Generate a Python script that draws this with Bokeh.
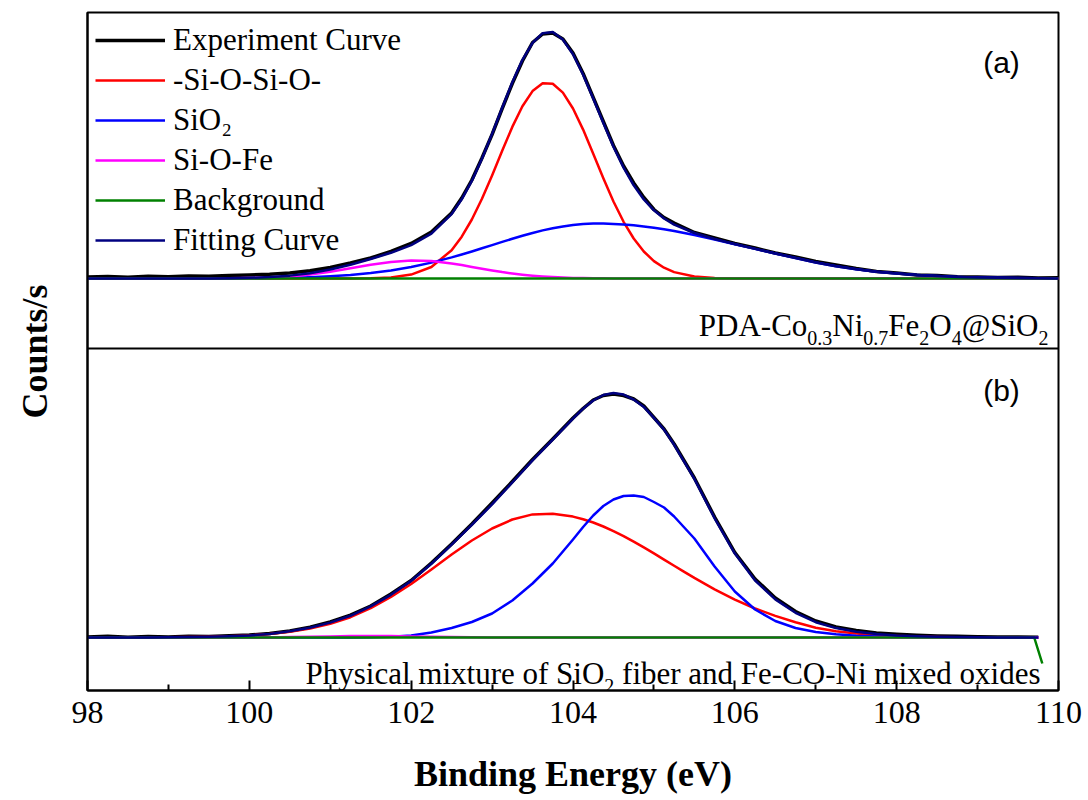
from bokeh.plotting import figure
from bokeh.models import Range1d, Span, Legend, LegendItem, FixedTicker
from bokeh.core.properties import value
from bokeh.embed import file_html
from bokeh.resources import INLINE

# ---------------- data ----------------
energy_a = [98.0, 98.25, 98.5, 98.75, 99.0, 99.25, 99.5, 99.75, 100.0, 100.25, 100.5, 100.75,
            101.0, 101.25, 101.5, 101.75, 102.0, 102.25, 102.5,
            102.625, 102.75, 102.875, 103.0, 103.125, 103.25, 103.375, 103.5, 103.625, 103.75, 103.875,
            104.0, 104.125, 104.25, 104.375, 104.5, 104.625, 104.75, 104.875, 105.0, 105.125, 105.25,
            105.5, 105.75, 106.0, 106.25, 106.5, 106.75, 107.0, 107.25, 107.5, 107.75,
            108.0, 108.25, 108.5, 108.75, 109.0, 109.25, 109.5, 109.75, 110.0]

exp_a = [1.5, 2.0, 1.2, 2.2, 1.8, 2.5, 2.2, 3.0, 3.6, 4.2, 5.5, 7.8,
         11.0, 15.5, 20.5, 27.0, 35.0, 46.5, 65.5,
         80.5, 98.5, 120.5, 144.0, 170.0, 195.0, 217.5, 236.0, 244.5, 245.5, 239.5,
         225.5, 205.0, 181.0, 157.0, 133.0, 112.5, 95.5, 81.0, 69.0, 61.0, 55.5,
         46.0, 40.5, 35.0, 30.5, 25.5, 21.5, 17.0, 13.5, 10.0, 7.0,
         5.5, 3.5, 3.0, 1.8, 1.5, 1.0, 1.2, 0.6, 0.8]
siosio_a = [0, 0, 0, 0, 0, 0, 0, 0, 0, 0, 0, 0,
            0, 0.05, 0.27, 1.1, 3.9, 11.5, 28.3,
            41.8, 59.0, 79.7, 103.1, 127.8, 151.6, 172.2, 187.4, 195.2, 194.7, 185.9,
            170.0, 148.9, 124.8, 100.2, 77.0, 56.7, 40.0, 27.0, 17.4, 10.8, 6.4,
            2.0, 0.5, 0.1, 0, 0, 0, 0, 0, 0, 0,
            0, 0, 0, 0, 0, 0, 0, 0, 0]
sio2_a = [0, 0, 0, 0, 0.01, 0.03, 0.06, 0.12, 0.23, 0.43, 0.77, 1.3,
          2.2, 3.5, 5.4, 8.0, 11.5, 15.9, 21.1,
          24.0, 27.0, 30.2, 33.4, 36.6, 39.7, 42.7, 45.5, 48.1, 50.3, 52.1,
          53.6, 54.5, 55.0, 55.0, 54.6, 54.1, 53.2, 52.1, 50.8, 49.2, 47.5,
          43.5, 39.0, 34.3, 29.6, 25.0, 20.5, 16.0, 12.3, 9.2, 6.8,
          4.9, 3.5, 2.4, 1.6, 1.0, 0.7, 0.4, 0.2, 0.1]
siofe_a = [0, 0, 0, 0, 0, 0, 0.06, 0.16, 0.43, 1.0, 2.1, 4.0,
           6.8, 10.2, 13.8, 16.6, 18.0, 17.4, 15.0,
           13.4, 11.6, 9.8, 8.1, 6.4, 5.0, 3.8, 2.8, 2.0, 1.4, 0.9,
           0.6, 0.4, 0.2, 0.15, 0.1, 0.05, 0, 0, 0, 0, 0,
           0, 0, 0, 0, 0, 0, 0, 0, 0, 0,
           0, 0, 0, 0, 0, 0, 0, 0, 0]
fit_a = [0, 0, 0, 0, 0.01, 0.03, 0.12, 0.28, 0.66, 1.43, 2.87, 5.3,
         9.0, 13.75, 19.47, 25.7, 33.4, 44.8, 64.4,
         79.2, 97.6, 119.7, 144.6, 170.8, 196.3, 218.7, 235.7, 245.3, 246.4, 238.9,
         224.2, 203.8, 180.0, 155.4, 131.7, 110.9, 93.2, 79.1, 68.2, 60.0, 53.9,
         45.5, 39.5, 34.4, 29.6, 25.0, 20.5, 16.0, 12.3, 9.2, 6.8,
         4.9, 3.5, 2.4, 1.6, 1.0, 0.7, 0.4, 0.2, 0.1]
bg_a_x = [98.0, 110.0]
bg_a_y = [0, 0]

energy_b = [98.0, 98.25, 98.5, 98.75, 99.0, 99.25, 99.5, 99.75, 100.0, 100.25, 100.5, 100.75,
            101.0, 101.25, 101.5, 101.75, 102.0, 102.25, 102.5, 102.75, 103.0, 103.25, 103.5, 103.75,
            104.0,
            104.125, 104.25, 104.375, 104.5, 104.625, 104.75, 104.875, 105.0, 105.125, 105.25, 105.375,
            105.5, 105.75, 106.0, 106.25, 106.5, 106.75, 107.0, 107.25, 107.5, 107.75,
            108.0, 108.25, 108.5, 108.75, 109.0, 109.25, 109.5, 109.75]
exp_b = [0.5, 1.2, 0.3, 1.0, 0.6, 1.3, 1.0, 1.8, 2.4, 4.0, 6.5, 10.2,
         15.5, 22.3, 31.5, 43.5, 57.0, 74.5, 93.5, 113.5, 134.5, 156.0, 178.0, 198.5,
         219.5,
         229.0, 237.5, 242.0, 243.5, 242.0, 238.5, 231.5, 220.0, 208.5, 193.5, 176.5,
         159.5, 120.5, 85.0, 58.5, 39.5, 26.0, 16.5, 10.5, 7.0, 4.5,
         3.2, 2.2, 1.5, 1.2, 0.8, 0.5, 0.6, 0.3]
siosio_b = [0, 0.02, 0.05, 0.1, 0.2, 0.4, 0.7, 1.2, 2.1, 3.6, 5.8, 9.0,
            13.8, 20.3, 29.3, 40.5, 53.5, 68.0, 83.0, 97.0, 109.0, 118.0, 123.1, 123.8,
            120.9,
            118.3, 115.0, 111.0, 106.4, 101.4, 95.9, 90.1, 84.1, 77.9, 71.7, 65.6,
            59.6, 48.2, 37.9, 29.0, 21.6, 15.2, 9.8, 6.2, 4.0, 2.5,
            1.5, 0.9, 0.5, 0.3, 0.15, 0.1, 0, 0]
sio2_b = [0, 0, 0, 0, 0, 0, 0, 0, 0, 0, 0, 0,
          0, 0, 0.3, 0.8, 2.0, 5.0, 9.5, 15.5, 24.0, 37.0, 54.0, 74.0,
          98.0,
          110.5, 122.0, 131.5, 138.0, 141.5, 142.0, 140.5, 135.5, 130.0, 121.0, 110.0,
          99.0, 71.0, 46.0, 28.0, 16.5, 9.5, 5.5, 3.2, 1.8, 1.0,
          0.6, 0.3, 0.2, 0.1, 0, 0, 0, 0]
siofe_b = [0, 0, 0, 0, 0, 0, 0, 0, 0, 0, 0.4, 0.7,
           1.1, 1.4, 1.5, 1.4, 1.1, 0.7, 0.4, 0.2, 0.1, 0, 0, 0,
           0,
           0, 0, 0, 0, 0, 0, 0, 0, 0, 0, 0,
           0, 0, 0, 0, 0, 0, 0, 0, 0, 0,
           0, 0, 0, 0, 0, 0, 0, 0]
fit_b = [0, 0.02, 0.05, 0.1, 0.2, 0.4, 0.7, 1.2, 2.1, 3.6, 6.2, 9.7,
         14.9, 21.7, 31.1, 42.7, 56.6, 73.7, 92.9, 112.7, 133.1, 155.0, 177.1, 197.8,
         218.9,
         228.8, 237.0, 242.5, 244.4, 242.9, 237.9, 230.6, 219.6, 207.9, 192.7, 175.6,
         158.6, 119.2, 83.9, 57.0, 38.1, 24.7, 15.3, 9.4, 5.8, 3.5,
         2.1, 1.2, 0.7, 0.4, 0.15, 0.1, 0, 0]
bg_b_x = [98.0, 109.7, 109.8]
bg_b_y = [0, 0, -26]

for arr in (exp_a, siosio_a, sio2_a, siofe_a, fit_a):
    assert len(arr) == len(energy_a), len(arr)
for arr in (exp_b, siosio_b, sio2_b, siofe_b, fit_b):
    assert len(arr) == len(energy_b), len(arr)

x_ticks = [98, 100, 102, 104, 106, 108, 110]
x_minor = [99, 101, 103, 105, 107, 109]
legend_labels = ["Experiment Curve", "-Si-O-Si-O-", "SiO\u2082", "Si-O-Fe", "Background", "Fitting Curve"]

# ---------------- figure ----------------
FL, FR, FT, FB = 87, 1058, 12, 690
p = figure(width=1088, height=800, x_range=Range1d(98, 110), y_range=Range1d(-53, 625),
           output_backend="svg", toolbar_location=None,
           min_border_left=FL, min_border_right=1088 - FR, min_border_top=FT, min_border_bottom=800 - FB)
p.extra_y_ranges = {"a": Range1d(-412, 266)}
p.xgrid.visible = False
p.ygrid.visible = False
p.outline_line_color = "black"
p.outline_line_width = 2
p.background_fill_color = "white"
p.border_fill_color = "white"

xa = p.xaxis[0]
xa.ticker = FixedTicker(ticks=x_ticks, minor_ticks=x_minor)
xa.major_tick_in = 10
xa.major_tick_out = 0
xa.minor_tick_in = 6
xa.minor_tick_out = 0
xa.axis_line_width = 2
xa.major_tick_line_width = 2
xa.minor_tick_line_width = 2
xa.major_label_text_font = "Liberation Serif"
xa.major_label_text_font_size = "32px"
xa.major_label_text_color = "black"
xa.major_label_standoff = 11
xa.axis_label = "Binding Energy (eV)"
xa.axis_label_text_font = "Liberation Serif"
xa.axis_label_text_font_size = "36px"
xa.axis_label_text_font_style = "bold"
xa.axis_label_text_color = "black"
xa.axis_label_standoff = 28

ya = p.yaxis[0]
ya.ticker = FixedTicker(ticks=[])
ya.major_tick_in = 0
ya.major_tick_out = 0
ya.minor_tick_in = 0
ya.minor_tick_out = 0
ya.axis_line_width = 2
ya.axis_label = "Counts/s"
ya.axis_label_text_font = "Liberation Serif"
ya.axis_label_text_font_size = "36px"
ya.axis_label_text_font_style = "bold"
ya.axis_label_text_color = "black"
ya.axis_label_standoff = 33

# separator between panels (b-range value of the panel boundary)
p.add_layout(Span(location=289, dimension="width", line_color="black", line_width=2))

LJ = "round"
# ---------------- panel (a) ----------------
r_exp = p.line(energy_a, exp_a, line_color="black", line_width=3.5, line_join=LJ, y_range_name="a")
r_red = p.line(energy_a, siosio_a, line_color="#ff0000", line_width=2.5, line_join=LJ, y_range_name="a")
r_blue = p.line(energy_a, sio2_a, line_color="#0000ff", line_width=2.5, line_join=LJ, y_range_name="a")
r_mag = p.line(energy_a, siofe_a, line_color="#ff00ff", line_width=2.5, line_join=LJ, y_range_name="a")
r_bg = p.line(bg_a_x, bg_a_y, line_color="#008000", line_width=2.5, line_join=LJ, y_range_name="a")
r_fit = p.line(energy_a, fit_a, line_color="#000080", line_width=2.5, line_join=LJ, y_range_name="a")

# ---------------- panel (b) ----------------
p.line(energy_b, exp_b, line_color="black", line_width=3.5, line_join=LJ)
p.line(energy_b, siosio_b, line_color="#ff0000", line_width=2.5, line_join=LJ)
p.line(energy_b, sio2_b, line_color="#0000ff", line_width=2.5, line_join=LJ)
p.line(energy_b, siofe_b, line_color="#ff00ff", line_width=2.5, line_join=LJ)
p.line(bg_b_x, bg_b_y, line_color="#008000", line_width=2.5, line_join=LJ)
p.line(energy_b, fit_b, line_color="#000080", line_width=2.5, line_join=LJ)

legend = Legend(items=[LegendItem(label=lab, renderers=[r]) for lab, r in
                       zip(legend_labels, [r_exp, r_red, r_blue, r_mag, r_bg, r_fit])],
                location="top_left", margin=2, padding=6, spacing=0,
                glyph_width=70, glyph_height=40, label_height=40, label_standoff=8,
                label_text_font="Liberation Serif", label_text_font_size="31px",
                label_text_color="black", background_fill_alpha=0, border_line_alpha=0)
p.add_layout(legend)

# ---------------- texts ----------------
PX_PER_EV = (FR - FL) / 12.0


def px_to_x(px):
    return 98 + (px - FL) / PX_PER_EV


p.text(x=[px_to_x(1001)], y=[278 - 62], text=["(a)"], y_range_name="a",
       text_font=value("Liberation Sans"), text_font_size=value("30px"),
       text_align="center", text_baseline="middle", text_color="black")
p.text(x=[px_to_x(1001)], y=[637 - 390], text=["(b)"],
       text_font=value("Liberation Sans"), text_font_size=value("30px"),
       text_align="center", text_baseline="middle", text_color="black")

TW = {' ': 250, 'P': 556, 'D': 722, 'A': 722, '-': 333, 'C': 667, 'o': 500, 'N': 722, 'i': 278,
      'F': 556, 'e': 444, 'O': 722, '@': 921, 'S': 556, 'h': 500, 'y': 500, 's': 389, 'c': 444,
      'a': 444, 'l': 278, 'm': 778, 'x': 500, 't': 278, 'u': 500, 'r': 333, 'f': 333, 'b': 500,
      'n': 500, 'd': 500, '.': 250}


def twidth(s, size):
    return sum(TW.get(c, 500) for c in s) / 1000.0 * size


MAIN, SUB = 31, 20


def rich_text(pieces, right_px, y_main, y_sub, rng):
    # pieces: (text, is_sub, leading_gap_px)
    total = sum(twidth(t, SUB if sub else MAIN) + gap for t, sub, gap in pieces)
    x = right_px - total
    for t, sub, gap in pieces:
        x += gap
        size = SUB if sub else MAIN
        kw = dict(text_font=value("Liberation Serif"), text_font_size=value(f"{size}px"),
                  text_align="left", text_baseline="alphabetic", text_color="black")
        if rng:
            kw["y_range_name"] = rng
        p.text(x=[px_to_x(x)], y=[y_sub if sub else y_main], text=[t], **kw)
        x += twidth(t, size)


rich_text([("PDA-Co", False, 0), ("0.3", True, 0), ("Ni", False, 0), ("0.7", True, 0),
           ("Fe", False, 0), ("2", True, 0), ("O", False, 0), ("4", True, 0),
           ("@SiO", False, 0), ("2", True, 0)], 1048, 278 - 325, 278 - 337, "a")
rich_text([("Physical mixture of SiO", False, 0), ("2", True, 0),
           ("fiber and Fe-CO-Ni mixed oxides", False, 0.25 * MAIN)], 1040, 637 - 673, 637 - 685, None)

open("out.html", "w").write(file_html(p, INLINE))
